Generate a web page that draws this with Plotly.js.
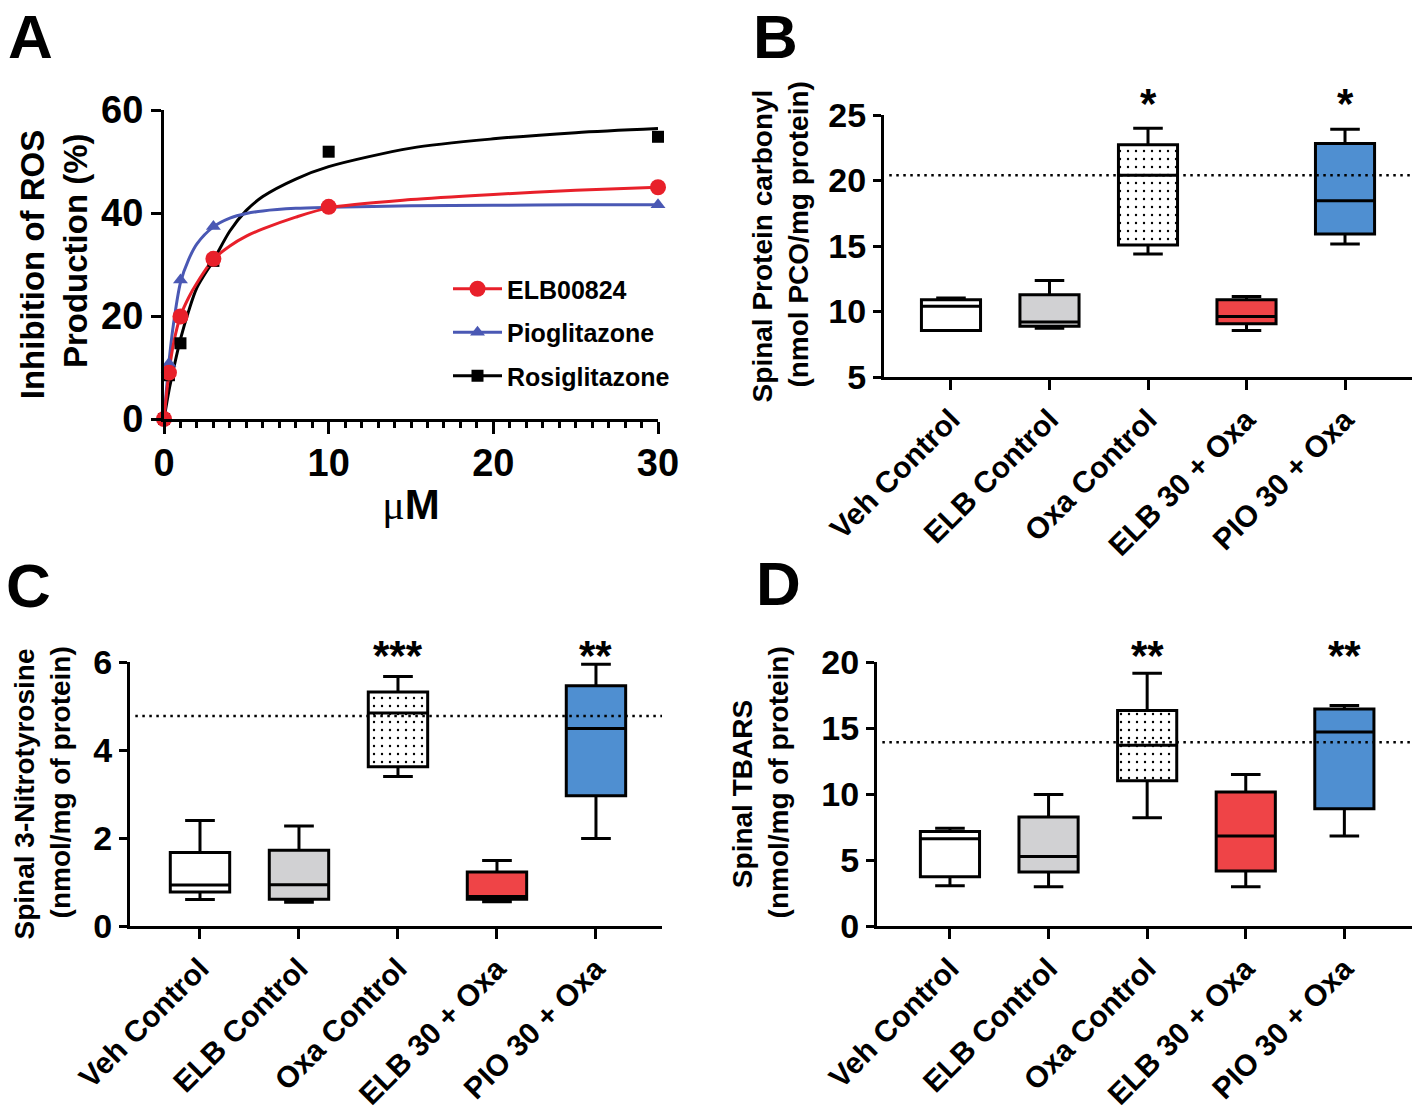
<!DOCTYPE html>
<html><head><meta charset="utf-8">
<script src="https://cdn.plot.ly/plotly-3.0.1.min.js"></script>
<style>html,body{margin:0;padding:0;background:#fff}#chart{width:1422px;height:1112px}</style>
</head><body><div id="chart"></div>
<script>
// ---------- Panel A data ----------
const conc = [0, 0.3, 1, 3, 10, 30];
const elbPts = [0, 9.0, 19.9, 31.1, 41.2, 45.0];
const pioPts = [0, 10.8, 27.0, 37.4, 41.2, 41.6];
const rosiPts = [0, 8.5, 14.7, 30.7, 51.9, 54.8];
// fitted curves
const fitConc = [0, 0.3, 0.6, 1, 1.5, 2, 3, 4, 5, 6, 8, 10, 15, 20, 25, 30];
const elbFit = [0, 9, 15, 20, 23.6, 26.4, 31, 33.6, 35.5, 36.9, 39.2, 41.0, 42.6, 43.6, 44.4, 45.0];
const pioFit = [0, 11, 19, 26.5, 31, 34, 37.3, 39.0, 39.9, 40.4, 40.9, 41.1, 41.4, 41.5, 41.6, 41.6];
const rosiFit = [0, 5.5, 10, 15.5, 21, 25.5, 30.8, 36.5, 40.5, 43.2, 46.6, 49.0, 52.6, 54.4, 55.6, 56.4];
const seriesNames = ["ELB00824", "Pioglitazone", "Rosiglitazone"];

// ---------- Box panels ----------
const groups = ["Veh Control", "ELB Control", "Oxa Control", "ELB 30 + Oxa", "PIO 30 + Oxa"];
// B: Spinal protein carbonyl
const pcoLow  = [8.55, 8.73, 14.39, 8.55, 15.15];
const pcoQ1   = [8.55, 8.88, 15.08, 9.06, 15.91];
const pcoMed  = [10.41, 9.19, 20.4, 9.62, 18.45];
const pcoQ3   = [10.89, 11.27, 22.72, 10.89, 22.82];
const pcoHigh = [11.04, 12.36, 23.98, 11.14, 23.91];
// C: Spinal 3-nitrotyrosine
const ntLow  = [0.60, 0.54, 3.40, 0.55, 1.99];
const ntQ1   = [0.77, 0.61, 3.62, 0.61, 2.96];
const ntMed  = [0.93, 0.94, 4.84, 0.67, 4.49];
const ntQ3   = [1.67, 1.72, 5.32, 1.23, 5.46];
const ntHigh = [2.40, 2.27, 5.67, 1.49, 5.95];
// D: Spinal TBARS
const tbLow  = [3.05, 2.98, 8.20, 2.98, 6.81];
const tbQ1   = [3.73, 4.09, 11.0, 4.16, 8.88];
const tbMed  = [6.61, 5.27, 13.69, 6.81, 14.70];
const tbQ3   = [7.16, 8.25, 16.32, 10.16, 16.44];
const tbHigh = [7.41, 9.96, 19.14, 11.48, 16.70];
// dotted reference lines (B, C, D)
const refLines = [20.4, 4.77, 13.92];
// significance marks
const sigB = ["", "", "*", "", "*"];
const sigC = ["", "", "***", "", "**"];
const sigD = ["", "", "**", "", "**"];

const FONT = '"Liberation Sans", Arial, Helvetica, sans-serif';
const boxFill = ["#FFFFFF", "#D1D1D3", "rgba(0,0,0,0)", "#EF4447", "#4F8FD1"];
const colRed = "#E8202A", colBlue = "#4A58B4", colBlack = "#000000";
const NB = "\u00A0";

const data = [];
// Panel A curves
[[rosiFit, colBlack], [pioFit, colBlue], [elbFit, colRed]].forEach(([f, c]) => {
  data.push({type: "scatter", mode: "lines", x: fitConc, y: f, xaxis: "x", yaxis: "y",
    line: {color: c, width: 3, shape: "spline", smoothing: 0.8}, showlegend: false, hoverinfo: "skip", cliponaxis: false});
});
// Panel A points
data.push({type: "scatter", mode: "markers", x: conc, y: rosiPts, xaxis: "x", yaxis: "y",
  marker: {symbol: "square", size: 12, color: colBlack}, showlegend: false, cliponaxis: false});
data.push({type: "scatter", mode: "markers", x: conc, y: pioPts, xaxis: "x", yaxis: "y",
  marker: {symbol: "triangle-up", size: 13, color: colBlue}, showlegend: false, cliponaxis: false});
data.push({type: "scatter", mode: "markers", x: conc, y: elbPts, xaxis: "x", yaxis: "y",
  marker: {symbol: "circle", size: 16, color: colRed}, showlegend: false, cliponaxis: false});
// legend entries
[[seriesNames[0], colRed, "circle", 16], [seriesNames[1], colBlue, "triangle-up", 13], [seriesNames[2], colBlack, "square", 12]]
.forEach(([n, c, s, sz], i) => {
  data.push({type: "scatter", mode: "lines+markers", x: [null], y: [null], xaxis: "x", yaxis: "y",
    name: n, legendgroup: "g" + i, line: {color: c, width: 3}, marker: {symbol: s, size: sz, color: c}});
});

function addBoxPanel(xa, ya, low, q1, med, q3, high) {
  // patterned background for the Oxa Control box
  data.push({type: "bar", x: [groups[2]], y: [q3[2] - q1[2]], base: [q1[2]], width: [0.6],
    xaxis: xa, yaxis: ya, showlegend: false, hoverinfo: "skip",
    marker: {color: "white", line: {width: 0},
      pattern: {shape: ".", size: 8, solidity: 0.07, fgcolor: "black", bgcolor: "white"}}});
  groups.forEach((g, i) => {
    data.push({type: "box", x: [g], q1: [q1[i]], median: [med[i]], q3: [q3[i]],
      lowerfence: [low[i]], upperfence: [high[i]], xaxis: xa, yaxis: ya,
      fillcolor: boxFill[i], line: {color: "black", width: 3}, width: 0.6, whiskerwidth: 0.5,
      boxpoints: false, showlegend: false, name: g});
  });
}
addBoxPanel("x2", "y2", pcoLow, pcoQ1, pcoMed, pcoQ3, pcoHigh);
addBoxPanel("x3", "y3", ntLow, ntQ1, ntMed, ntQ3, ntHigh);
addBoxPanel("x4", "y4", tbLow, tbQ1, tbMed, tbQ3, tbHigh);

const W = 1422, H = 1112;
const px = v => v / W, py = v => 1 - v / H;

const yBase = {showline: true, linewidth: 3, linecolor: "black", ticks: "outside", tickwidth: 3,
  tickcolor: "black", showgrid: false, zeroline: false, fixedrange: true,
  tickfont: {family: FONT, size: 34, weight: "bold", color: "black"}};
const xCat = {type: "category", categoryorder: "array", categoryarray: groups, showline: true, linewidth: 3,
  linecolor: "black", ticks: "outside", ticklen: 10, tickwidth: 3, tickcolor: "black", tickangle: -45,
  showgrid: false, zeroline: false, fixedrange: true,
  tickfont: {family: FONT, size: 30, weight: "bold", color: "black"}};
const titleFont = {family: FONT, size: 28, weight: "bold", color: "black"};
const pad = n => NB.repeat(n);

const yRanges = {y2: [5, 25], y3: [0, 6], y4: [0, 20]};

const layout = {
  width: W, height: H, margin: {l: 0, r: 0, t: 0, b: 0},
  paper_bgcolor: "white", plot_bgcolor: "white",
  font: {family: FONT, color: "black", weight: "bold"},
  showlegend: true,
  legend: {x: px(448), y: py(266), xanchor: "left", yanchor: "top", bgcolor: "rgba(0,0,0,0)",
    font: {family: FONT, size: 25, weight: "bold", color: "black"}, tracegroupgap: 8, itemwidth: 49},
  xaxis: {domain: [px(164), px(658)], anchor: "y", range: [0, 30], tickvals: [0, 10, 20, 30],
    showline: true, linewidth: 3, linecolor: "black", ticks: "outside", ticklen: 12, tickwidth: 3,
    tickcolor: "black", showgrid: false, zeroline: false, fixedrange: true, ticklabelstandoff: -4,
    minor: {dtick: 1, tick0: 0, ticks: "outside", ticklen: 6, tickwidth: 3, tickcolor: "black", showgrid: false},
    tickfont: {family: FONT, size: 38, weight: "bold", color: "black"},
    title: {text: '<span style="font-family:\'Liberation Serif\',serif;font-weight:normal">μ</span>M',
      font: {family: FONT, size: 42, weight: "bold", color: "black"}, standoff: 8}},
  yaxis: Object.assign({}, yBase, {domain: [py(419), py(110)], anchor: "x", range: [0, 60], dtick: 20, ticklen: 10,
    tickfont: {family: FONT, size: 38, weight: "bold", color: "black"},
    title: {text: pad(3) + "Inhibition of ROS<br>" + pad(3) + "Production (%)", font: {family: FONT, size: 33, weight: "bold", color: "black"}, standoff: 4}}),
  xaxis2: Object.assign({}, xCat, {domain: [px(884), px(1412)], anchor: "y2", range: [-0.68, 4.68]}),
  yaxis2: Object.assign({}, yBase, {domain: [py(377), py(115)], anchor: "x2", range: yRanges.y2, tick0: 5, dtick: 5, ticklen: 8,
    title: {text: pad(3) + "Spinal Protein carbonyl<br>" + pad(3) + "(nmol PCO/mg protein)", font: titleFont, standoff: 12}}),
  xaxis3: Object.assign({}, xCat, {domain: [px(130), px(662)], anchor: "y3", range: [-0.707, 4.667]}),
  yaxis3: Object.assign({}, yBase, {domain: [py(926), py(662)], anchor: "x3", range: yRanges.y3, dtick: 2, ticklen: 8,
    title: {text: pad(3) + "Spinal 3-Nitrotyrosine<br>" + pad(3) + "(nmol/mg of protein)", font: titleFont, standoff: 15}}),
  xaxis4: Object.assign({}, xCat, {domain: [px(877), px(1412)], anchor: "y4", range: [-0.74, 4.686]}),
  yaxis4: Object.assign({}, yBase, {domain: [py(926), py(662)], anchor: "x4", range: yRanges.y4, dtick: 5, ticklen: 8,
    title: {text: pad(3) + "Spinal TBARS<br>" + pad(3) + "(nmol/mg of protein)", font: titleFont, standoff: 25}}),
  shapes: [["x2", "y2"], ["x3", "y3"], ["x4", "y4"]].map(([xa, ya], i) => ({
    type: "line", xref: xa + " domain", yref: ya, x0: 0.01, x1: 1, y0: refLines[i], y1: refLines[i],
    line: {color: "black", width: 2.5, dash: "2.5px,4.5px"}})),
  annotations: []
};

// panel letters
[["A", 30, 0, "top"], ["B", 776, 0, "top"], ["C", 28, 585, "middle"], ["D", 778, 583, "middle"]].forEach(([t, x, y, ya]) => {
  layout.annotations.push({text: t, xref: "paper", yref: "paper", x: px(x), y: py(y), xanchor: "center", yanchor: ya,
    showarrow: false, font: {family: FONT, size: 62, weight: "bold", color: "black"}});
});
// significance marks
[[sigB, "x2", "y2", 12], [sigC, "x3", "y3", 7], [sigD, "x4", "y4", 7]].forEach(([sig, xa, ya, sh]) => {
  sig.forEach((s, i) => {
    if (!s) return;
    layout.annotations.push({text: s, xref: xa, yref: ya, x: groups[i], y: yRanges[ya][1], yshift: sh,
      xanchor: "center", yanchor: "middle", showarrow: false,
      font: {family: FONT, size: 42, weight: "bold", color: "black"}});
  });
});

Plotly.newPlot("chart", data, layout, {displayModeBar: false, staticPlot: true});
</script>
</body></html>
